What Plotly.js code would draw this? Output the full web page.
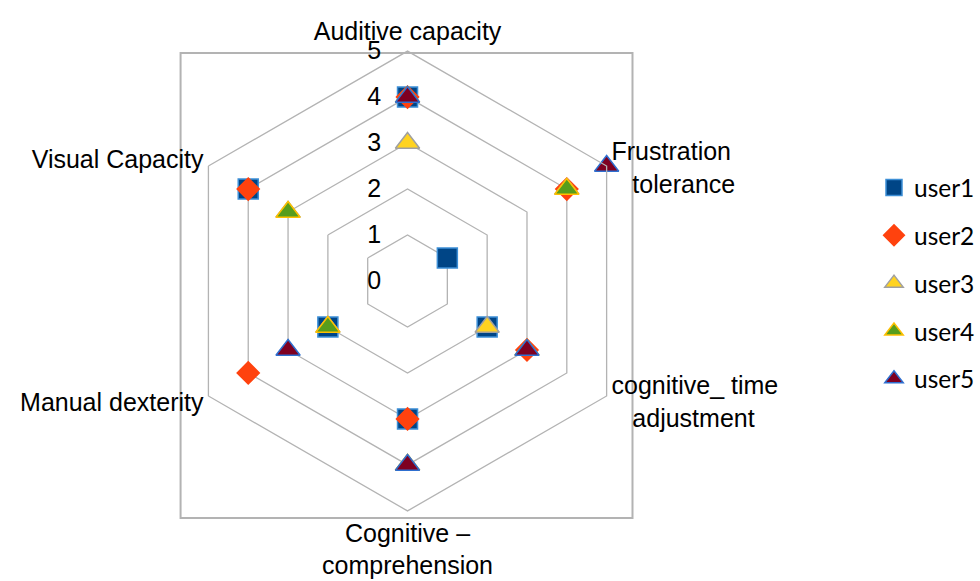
<!DOCTYPE html>
<html>
<head>
<meta charset="utf-8">
<script src="https://cdn.plot.ly/plotly-3.0.1.min.js"></script>
<style>html,body{margin:0;padding:0;background:#fff;overflow:hidden;width:980px;height:581px;}#chart{width:980px;height:581px;overflow:hidden;}</style>
</head>
<body>
<div id="chart"></div>
<script>
const categories = ["Auditive capacity", "Frustration tolerance", "cognitive_ time adjustment", "Cognitive – comprehension", "Manual dexterity", "Visual Capacity"];
const categoryLabels = ["Auditive capacity", "Frustration<br>tolerance", "cognitive_ time<br>adjustment", "Cognitive –<br>comprehension", "Manual dexterity", "Visual Capacity"];
const radialTicks = [0, 1, 2, 3, 4, 5];
const seriesNames = ["user1", "user2", "user3", "user4", "user5"];
const user1 = [4, 1, 2, 3, 2, 4];
const user2 = [4, 4, 3, 3, 4, 4];
const user3 = [3, 4, 2, 4, 2, 3];
const user4 = [4, 4, 3, 4, 2, 3];
const user5 = [4, 5, 3, 4, 3, 0];

// display-only padding so multi-line labels sit centred on their hexagon vertex like the original
const NB = "\u00a0";
const pad = [
  {pre: 0, post: 0, indent: 0},
  {pre: 2, post: 0, indent: 3},
  {pre: 0, post: 2, indent: 3},
  {pre: 0, post: 0, indent: 0},
  {pre: 0, post: 1, indent: 0},
  {pre: 0, post: 0, indent: 0}
];
const tickText = categoryLabels.map((lab, i) => {
  const p = pad[i];
  let lines = lab.split("<br>").map((l, k) => (k > 0 ? NB.repeat(p.indent) : "") + l);
  for (let k = 0; k < p.pre; k++) lines.unshift(NB);
  for (let k = 0; k < p.post; k++) lines.push(NB);
  return lines.join("<br>");
});

const values = [user1, user2, user3, user4, user5];
const styles = [
  {symbol: "square", size: 20, color: "#004586", line: "#3D8FD6"},
  {symbol: "diamond", size: 17, color: "#FF420E", line: "#FF420E"},
  {symbol: "triangle-up", size: 21, color: "#FFD320", line: "#A0A0A0"},
  {symbol: "triangle-up", size: 21, color: "#579D1C", line: "#FFC000"},
  {symbol: "triangle-up", size: 21, color: "#7E0021", line: "#2E6FD0"}
];

const traces = values.map((v, i) => ({
  type: "scatterpolar",
  mode: "markers",
  name: seriesNames[i],
  legendgroup: seriesNames[i],
  r: v,
  theta: categories,
  marker: {symbol: styles[i].symbol, size: styles[i].size, color: styles[i].color,
           line: {color: styles[i].line, width: 1.5}},
  cliponaxis: false
}));

const W = 980, H = 581;
const layout = {
  width: W, height: H,
  margin: {l: 0, r: 0, t: 0, b: 0},
  paper_bgcolor: "#ffffff",
  font: {family: "Liberation Sans, Arial, sans-serif", color: "#000000", size: 25},
  showlegend: true,
  legend: {
    x: 886 / W, y: (H - 165) / H, xanchor: "left", yanchor: "top",
    font: {family: "Lato, Carlito, sans-serif", size: 24.5, color: "#000"},
    traceorder: "grouped", tracegroupgap: 13, itemwidth: 30,
    bgcolor: "rgba(0,0,0,0)"
  },
  polar: {
    domain: {x: [180 / W, 646 / W], y: [(H - 514) / H, (H - 48) / H]},
    bgcolor: "rgba(0,0,0,0)",
    gridshape: "linear",
    angularaxis: {
      type: "category",
      categoryarray: categories,
      tickmode: "array",
      tickvals: categories,
      ticktext: tickText,
      rotation: 90,
      direction: "clockwise",
      showgrid: false,
      showline: true,
      linecolor: "#B3B3B3",
      linewidth: 1.3,
      ticks: "",
      tickfont: {family: "Liberation Sans, Arial, sans-serif", size: 25, color: "#000"}
    },
    radialaxis: {
      range: [0, 5],
      tickvals: radialTicks,
      ticktext: radialTicks.map(String),
      angle: 90,
      tickangle: 90,
      side: "counterclockwise",
      showline: false,
      showgrid: true,
      gridcolor: "#B3B3B3",
      gridwidth: 1.3,
      ticks: "outside",
      ticklen: 17,
      tickcolor: "rgba(0,0,0,0)",
      tickfont: {family: "Liberation Sans, Arial, sans-serif", size: 25, color: "#000"}
    }
  },
  shapes: [{
    type: "rect", xref: "paper", yref: "paper", layer: "below",
    x0: 183 / W, x1: 641 / W, y0: (H - 518) / H, y1: (H - 53) / H,
    line: {color: "#B3B3B3", width: 2}
  }]
};

Plotly.newPlot("chart", traces, layout, {displayModeBar: false, staticPlot: true});
</script>
</body>
</html>
